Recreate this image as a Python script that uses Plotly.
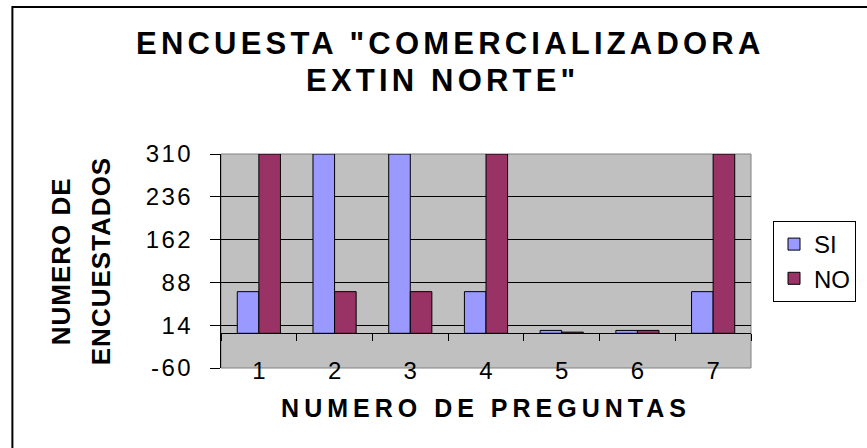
import plotly.graph_objects as go

# ---- data ----
categories = ["1", "2", "3", "4", "5", "6", "7"]
si_values = [72, 310, 310, 72, 5, 5, 72]
no_values = [310, 72, 72, 310, 2, 5, 310]
y_tick_values = [-60, 14, 88, 162, 236, 310]
y_tick_labels = ["-60", "14", "88", "162", "236", "310"]
grid_values = [14, 88, 162, 236]
y_range = [-60, 310]

title_lines = ['ENCUESTA "COMERCIALIZADORA', 'EXTIN NORTE"']
x_title = "NUMERO DE PREGUNTAS"
y_title_lines = ["NUMERO DE", "ENCUESTADOS"]

# ---- layout constants ----
W, H = 867, 448
L, R, T, B = 221, 115, 154, 80
FONT = "Liberation Sans, Arial, sans-serif"
SI_COLOR = "#9999FF"
NO_COLOR = "#993366"


def spaced(text, px):
    return f"<span style='letter-spacing:{px}px'>{text}</span>"


fig = go.Figure()
fig.add_trace(go.Bar(name="SI", x=categories, y=si_values,
                     marker=dict(color=SI_COLOR, line=dict(color="black", width=1))))
fig.add_trace(go.Bar(name="NO", x=categories, y=no_values,
                     marker=dict(color=NO_COLOR, line=dict(color="black", width=1))))

pw = W - L - R
ph = H - T - B
zero_pos = (0 - y_range[0]) / (y_range[1] - y_range[0])

fig.update_layout(
    width=W, height=H,
    margin=dict(l=L, r=R, t=T, b=B, pad=0),
    paper_bgcolor="white",
    plot_bgcolor="#C0C0C0",
    barmode="group",
    bargap=0.43,
    bargroupgap=0,
    font=dict(family=FONT, color="black", size=23),
    xaxis=dict(
        type="category",
        anchor="free", position=zero_pos,
        showline=True, linecolor="black", linewidth=1,
        ticks="outside", tickson="boundaries", ticklen=7, tickcolor="black",
        ticklabelstandoff=16,
        tickfont=dict(size=24),
        showgrid=False, zeroline=False,
        title=dict(text="<b>" + spaced(x_title, 5) + "</b>", standoff=16,
                   font=dict(size=25)),
    ),
    yaxis=dict(
        range=y_range,
        tickmode="array", tickvals=y_tick_values,
        ticktext=[spaced(t, 2.5) for t in y_tick_labels],
        showline=True, linecolor="black", linewidth=1,
        ticks="outside", ticklen=10, tickcolor="black",
        ticklabelstandoff=12,
        tickfont=dict(size=24),
        showgrid=False, zeroline=False,
        minor=dict(tickmode="array", tickvals=grid_values, showgrid=True,
                   gridcolor="black", gridwidth=1, ticks=""),
    ),
    legend=dict(
        x=(773 - L) / pw, xanchor="left", xref="paper",
        y=(H - B - 221) / ph, yanchor="top", yref="paper",
        bgcolor="white", bordercolor="black", borderwidth=1,
        font=dict(family=FONT, size=24, color="black"),
        traceorder="normal",
    ),
    showlegend=True,
)

# chart title: two centred lines
for text, cx, cy in zip(title_lines, [451, 443], [43, 81]):
    fig.add_annotation(
        text="<b>" + spaced(text, 4.2) + "</b>",
        xref="paper", yref="paper",
        x=(cx - L) / pw, y=(H - B - cy) / ph, xanchor="center", yanchor="middle",
        showarrow=False, font=dict(family=FONT, size=31, color="black"),
    )

# y-axis title: two rotated lines
for text, px in zip(y_title_lines, [61, 101]):
    fig.add_annotation(
        text="<b>" + spaced(text, 1) + "</b>", textangle=-90,
        xref="paper", yref="paper",
        x=(px - L) / pw, y=0.5, xanchor="center", yanchor="middle",
        showarrow=False, font=dict(family=FONT, size=26, color="black"),
    )

# plot-area border (gray) and outer chart frame (black)
fig.add_shape(type="rect", xref="x domain", yref="y domain", x0=0, x1=1, y0=0, y1=1,
              line=dict(color="#808080", width=1), layer="below")
fig.add_shape(type="rect", xref="paper", yref="paper",
              x0=(12 - L) / pw, x1=(W + 50 - L) / pw,
              y0=(H - B - (H + 50)) / ph, y1=(H - B - 7) / ph,
              line=dict(color="black", width=2), fillcolor="rgba(0,0,0,0)", layer="above")

fig.write_html("out.html")
